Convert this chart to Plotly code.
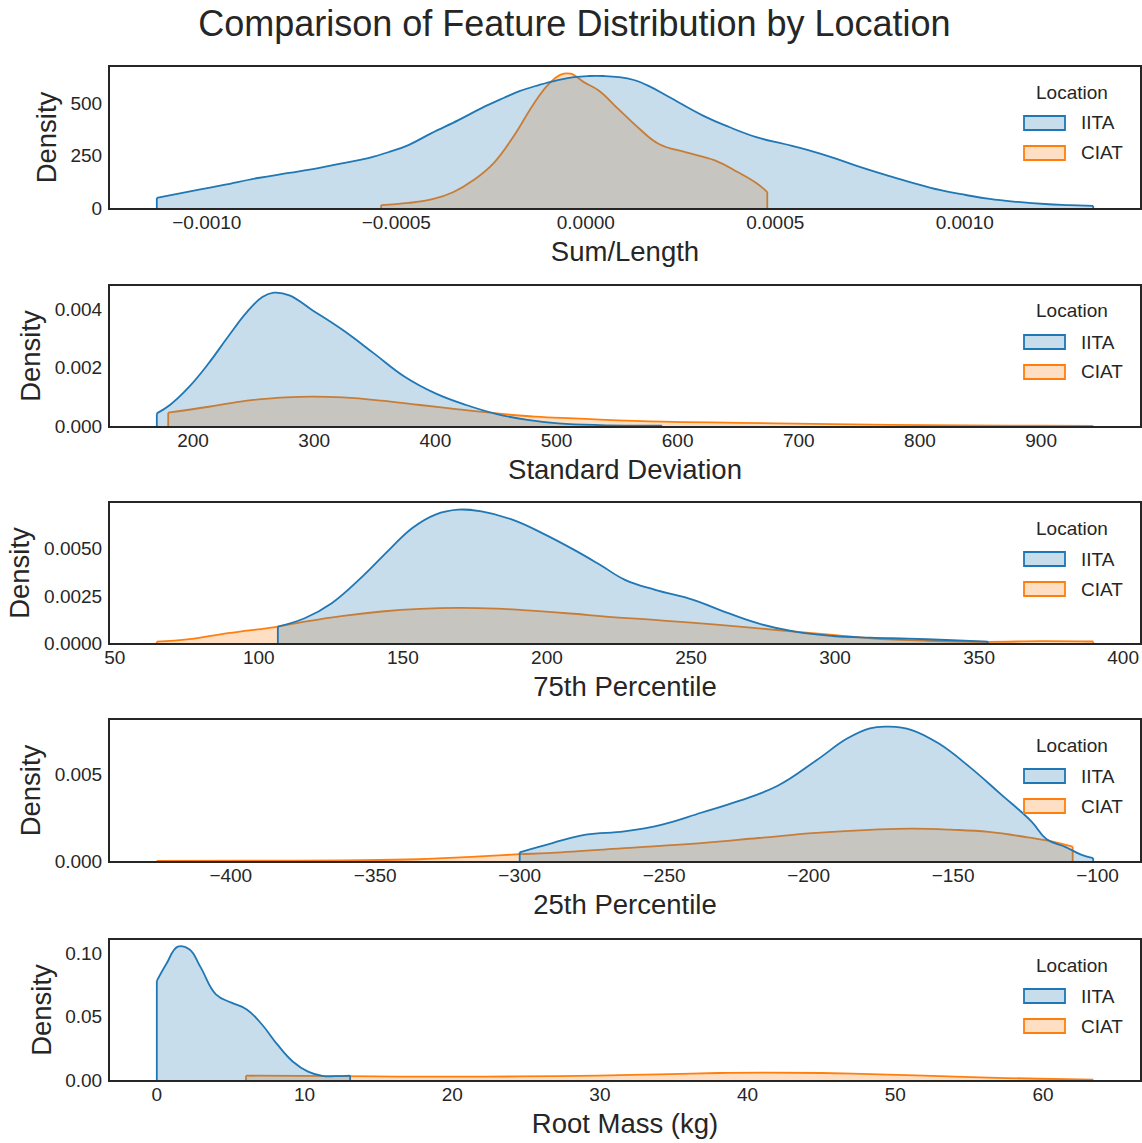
import plotly.graph_objects as go

FONT = "Liberation Sans, Arial, Helvetica, sans-serif"
INK = "#262626"
W, H = 1142, 1143

LOCATIONS = ["IITA", "CIAT"]
LINE_COLORS = {"IITA": "#1f77b4", "CIAT": "#ff7f0e"}
FILL_COLORS = {"IITA": "rgba(31,119,180,0.25)", "CIAT": "rgba(255,127,14,0.25)"}

FEATURES = ["Sum/Length", "Standard Deviation", "75th Percentile",
            "25th Percentile", "Root Mass (kg)"]

# ---- density curves (x grid, density) per feature and location ----
sum_len_iita_x = [-0.001132, -0.001024, -0.000955, -0.000865, -0.000783, -0.000706,
                  -0.000640, -0.000574, -0.000519, -0.000468, -0.000407, -0.000336,
                  -0.000275, -0.000217, -0.000175, -0.000124, -0.000074, -0.000032,
                  0.000008, 0.000048, 0.000087, 0.000127, 0.000167, 0.000220,
                  0.000312, 0.000378, 0.000450, 0.000524, 0.000587, 0.000656,
                  0.000725, 0.000802, 0.000865, 0.000934, 0.001003, 0.001066,
                  0.001140, 0.001212, 0.001278, 0.001339]
sum_len_iita_d = [48, 86, 110, 143, 167, 190, 214, 238, 267, 300, 357, 419, 476, 524,
                  557, 586, 610, 624, 629, 629, 624, 610, 581, 529, 438, 386, 338,
                  305, 276, 238, 195, 152, 119, 86, 62, 43, 29, 19, 14, 10]
sum_len_ciat_x = [-0.000540, -0.000468, -0.000402, -0.000349, -0.000296, -0.000243,
                  -0.000190, -0.000138, -0.000098, -0.000066, -0.000040, -0.000005,
                  0.000034, 0.000087, 0.000140, 0.000193, 0.000265, 0.000339,
                  0.000402, 0.000450, 0.000479]
sum_len_ciat_d = [14, 24, 43, 76, 133, 214, 343, 495, 590, 636, 640, 600, 560, 470,
                  380, 305, 265, 228, 170, 119, 76]

std_iita_x = [170.1, 180.9, 196.7, 212.9, 228.7, 244.6, 257.2, 266.7, 279.5, 298.5,
              323.9, 349.3, 374.7, 400.1, 425.5, 450.8, 476.1, 501.6, 536.0, 587.0]
std_iita_d = [0.000434, 0.00072, 0.00134, 0.00215, 0.00305, 0.00391, 0.00442, 0.00457,
              0.00448, 0.00397, 0.00328, 0.00249, 0.00169, 0.00112, 0.00072, 0.00041,
              0.00021, 0.00009, 0.00003, 0.00001]
std_ciat_x = [179.5, 212.9, 244.6, 276.3, 298.5, 323.9, 355.6, 387.4, 418.9, 450.8,
              482.6, 514.3, 535.8, 587.9, 650.2, 712.4, 774.6, 837.2, 900.7, 943.0]
std_ciat_d = [0.000456, 0.00066, 0.00087, 0.00098, 0.00101, 0.00098, 0.00087, 0.00072,
              0.00057, 0.00043, 0.00032, 0.00026, 0.00022, 0.00015, 0.00011, 0.00007,
              0.00004, 0.00002, 0.00001, 0.000005]

p75_iita_x = [106.6, 115.9, 125.3, 136.0, 145.3, 153.3, 161.3, 169.2, 177.3, 188.0,
              198.7, 209.3, 218.4, 227.1, 237.6, 250.8, 259.9, 273.1, 286.1, 299.3,
              312.4, 325.5, 338.6, 353.0]
p75_iita_d = [0.00087, 0.00131, 0.00211, 0.00353, 0.00495, 0.0061, 0.00681, 0.00707,
              0.00698, 0.00654, 0.00580, 0.00495, 0.00415, 0.00335, 0.00282, 0.00229,
              0.00176, 0.00105, 0.0006, 0.00037, 0.00028, 0.00023, 0.00016, 0.00007]
p75_ciat_x = [64.6, 75.9, 89.3, 102.6, 106.6, 115.9, 129.3, 142.6, 156.0, 169.2, 182.7,
              196.0, 209.3, 220.5, 240.3, 259.9, 279.6, 299.3, 312.4, 332.1, 353.0,
              371.4, 389.6]
p75_ciat_d = [0.00007, 0.0002, 0.00052, 0.00078, 0.00087, 0.00113, 0.00144, 0.00167,
              0.00181, 0.00186, 0.00182, 0.0017, 0.00155, 0.0014, 0.00119, 0.00096,
              0.00069, 0.00043, 0.00025, 0.00012, 0.00006, 0.0001, 0.00008]

p25_iita_x = [-300.0, -288.7, -277.1, -263.8, -250.7, -237.2, -224.1, -210.7, -197.4,
              -186.7, -178.8, -172.2, -164.3, -154.9, -144.2, -133.5, -122.9, -117.6,
              -111.0, -105.5, -101.5]
p25_iita_d = [0.0005, 0.00103, 0.00151, 0.0017, 0.00209, 0.00277, 0.00345, 0.00432,
              0.00577, 0.00703, 0.00762, 0.00771, 0.00752, 0.00674, 0.00539, 0.00384,
              0.00228, 0.00125, 0.0008, 0.00035, 0.00016]
p25_ciat_x = [-425.6, -394.0, -361.6, -335.0, -315.3, -300.0, -290.4, -263.8, -237.2,
              -217.3, -197.4, -177.4, -164.3, -150.8, -137.6, -124.2, -117.6, -108.6]
p25_ciat_d = [0.00001, 0.00002, 0.00004, 0.0001, 0.00025, 0.00039, 0.00045, 0.00074,
              0.00103, 0.00132, 0.00161, 0.0018, 0.00186, 0.0018, 0.00167, 0.00136,
              0.00118, 0.00083]

mass_iita_x = [0.0, 0.64, 1.42, 2.2, 2.97, 4.0, 5.05, 6.09, 7.12, 8.17, 9.2, 10.24,
               11.28, 12.06, 13.09]
mass_iita_d = [0.078, 0.0913, 0.105, 0.103, 0.0887, 0.0675, 0.0609, 0.0556, 0.0437,
               0.0278, 0.0146, 0.0066, 0.0031, 0.0030, 0.0035]
mass_ciat_x = [6.04, 12.55, 16.35, 20.35, 24.5, 29.9, 34.0, 38.0, 41.0, 45.0, 49.5,
               54.6, 59.7, 63.4]
mass_ciat_d = [0.0034, 0.0030, 0.0027, 0.0026, 0.0028, 0.0035, 0.0045, 0.0055, 0.0058,
               0.0055, 0.0043, 0.0024, 0.0010, 0.0003]

# ---- tick values ----
sum_len_xticks = [-0.001, -0.0005, 0.0, 0.0005, 0.001]
sum_len_yticks = [0, 250, 500]
std_xticks = [200, 300, 400, 500, 600, 700, 800, 900]
std_yticks = [0.0, 0.002, 0.004]
p75_xticks = [50, 100, 150, 200, 250, 300, 350, 400]
p75_yticks = [0.0, 0.0025, 0.005]
p25_xticks = [-400, -350, -300, -250, -200, -150, -100]
p25_yticks = [0.0, 0.005]
mass_xticks = [0, 10, 20, 30, 40, 50, 60]
mass_yticks = [0.0, 0.05, 0.10]

panels = [
    dict(curves={"IITA": (sum_len_iita_x, sum_len_iita_d), "CIAT": (sum_len_ciat_x, sum_len_ciat_d)},
         xticks=sum_len_xticks, xfmt=".4f", yticks=sum_len_yticks, yfmt="d"),
    dict(curves={"IITA": (std_iita_x, std_iita_d), "CIAT": (std_ciat_x, std_ciat_d)},
         xticks=std_xticks, xfmt="d", yticks=std_yticks, yfmt=".3f"),
    dict(curves={"IITA": (p75_iita_x, p75_iita_d), "CIAT": (p75_ciat_x, p75_ciat_d)},
         xticks=p75_xticks, xfmt="d", yticks=p75_yticks, yfmt=".4f"),
    dict(curves={"IITA": (p25_iita_x, p25_iita_d), "CIAT": (p25_ciat_x, p25_ciat_d)},
         xticks=p25_xticks, xfmt="d", yticks=p25_yticks, yfmt=".3f"),
    dict(curves={"IITA": (mass_iita_x, mass_iita_d), "CIAT": (mass_ciat_x, mass_ciat_d)},
         xticks=mass_xticks, xfmt="d", yticks=mass_yticks, yfmt=".2f"),
]

# panel frames in pixels: (top, bottom); shared left/right edges
PANEL_TOPS = [67, 286, 503, 720, 940]
PANEL_BOTTOMS = [208, 426, 643, 861, 1080]
LEFT, RIGHT = 110, 1140


def px_x(p):
    return p / W


def px_y(p):
    return 1 - p / H


fig = go.Figure()
layout = dict(
    width=W, height=H,
    margin=dict(l=0, r=0, t=0, b=0, autoexpand=False),
    paper_bgcolor="white", plot_bgcolor="white",
    showlegend=False,
    font=dict(family=FONT, color=INK, size=19),
    title=dict(text="Comparison of Feature Distribution by Location",
               x=0.503, xanchor="center", xref="paper",
               y=px_y(23), yanchor="middle", yref="paper",
               font=dict(size=36, color=INK, family=FONT)),
)
shapes, annotations = [], []

for i, (panel, feature) in enumerate(zip(panels, FEATURES), start=1):
    xa = "x" if i == 1 else f"x{i}"
    ya = "y" if i == 1 else f"y{i}"

    # draw CIAT first so the IITA fill sits on top
    for loc in ["CIAT", "IITA"]:
        xs, ds = panel["curves"][loc]
        fig.add_trace(go.Scatter(
            x=xs, y=ds, mode="lines", name=loc, xaxis=xa, yaxis=ya,
            fill="tozeroy", fillcolor=FILL_COLORS[loc],
            line=dict(color=LINE_COLORS[loc], width=1.8, shape="spline", smoothing=1.2),
            hoverinfo="x+y+name"))
        # closing edges of the clipped density at both data limits
        fig.add_trace(go.Scatter(
            x=[xs[0], xs[0], None, xs[-1], xs[-1]],
            y=[0, ds[0], None, ds[-1], 0],
            mode="lines", xaxis=xa, yaxis=ya, hoverinfo="skip",
            line=dict(color=LINE_COLORS[loc], width=1.8)))

    all_x = [v for loc in LOCATIONS for v in panel["curves"][loc][0]]
    all_d = [v for loc in LOCATIONS for v in panel["curves"][loc][1]]
    xmin, xmax = min(all_x), max(all_x)
    pad = 0.05 * (xmax - xmin)
    top, bottom = PANEL_TOPS[i - 1], PANEL_BOTTOMS[i - 1]

    axis_common = dict(showline=True, mirror=True, linecolor=INK, linewidth=2,
                       showgrid=False, zeroline=False, ticks="", ticklen=0,
                       automargin=False,
                       tickfont=dict(size=19, color=INK, family=FONT))
    layout["xaxis" if i == 1 else f"xaxis{i}"] = dict(
        axis_common, domain=[px_x(LEFT), px_x(RIGHT)], anchor=ya,
        range=[xmin - pad, xmax + pad],
        tickmode="array", tickvals=panel["xticks"], tickformat=panel["xfmt"],
        ticklabelstandoff=-4,
        title=dict(text=feature, font=dict(size=27.5, color=INK, family=FONT), standoff=10))
    layout["yaxis" if i == 1 else f"yaxis{i}"] = dict(
        axis_common, domain=[px_y(bottom), px_y(top)], anchor=xa,
        range=[0, 1.05 * max(all_d)],
        tickmode="array", tickvals=panel["yticks"], tickformat=panel["yfmt"],
        ticklabelstandoff=2,
        title=dict(text="Density", font=dict(size=27.5, color=INK, family=FONT), standoff=6))

    # legend box for this panel
    annotations.append(dict(text="Location", xref="paper", yref="paper",
                            x=px_x(1072), y=px_y(top + 25), xanchor="center",
                            yanchor="middle", showarrow=False,
                            font=dict(size=19, color=INK, family=FONT)))
    for k, loc in enumerate(LOCATIONS):
        cy = top + 56 + 30 * k
        shapes.append(dict(type="rect", xref="paper", yref="paper",
                           x0=px_x(1024), x1=px_x(1065),
                           y0=px_y(cy - 7), y1=px_y(cy + 7),
                           fillcolor=FILL_COLORS[loc],
                           line=dict(color=LINE_COLORS[loc], width=1.8)))
        annotations.append(dict(text=loc, xref="paper", yref="paper",
                                x=px_x(1079), y=px_y(cy), xanchor="left",
                                yanchor="middle", showarrow=False,
                                font=dict(size=19, color=INK, family=FONT)))

layout["shapes"] = shapes
layout["annotations"] = annotations
fig.update_layout(**layout)
fig.write_html("out.html")
